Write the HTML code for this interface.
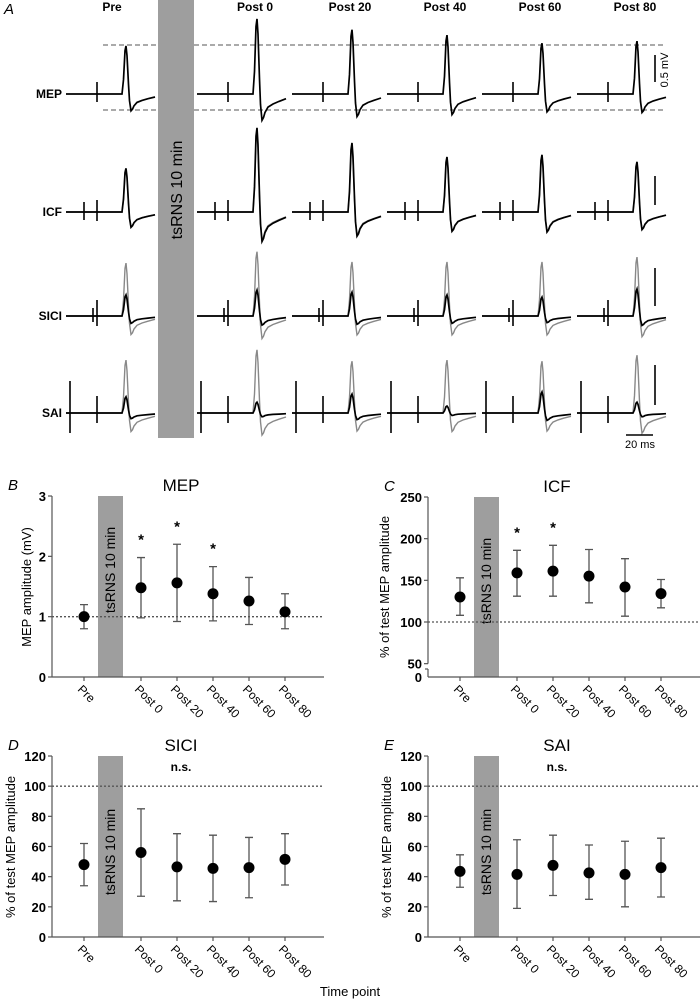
<!DOCTYPE html>
<html><head><meta charset="utf-8">
<style>
html,body{margin:0;padding:0;background:#fff;}
svg{display:block;font-family:"Liberation Sans",Arial,sans-serif;}
</style></head>
<body>
<svg id="fig" width="700" height="1003" viewBox="0 0 700 1003" xmlns="http://www.w3.org/2000/svg">
<g id="panelA"></g>
<g id="panelB"></g>
<g id="panelC"></g>
<g id="panelD"></g>
<g id="panelE"></g>
<text x="350" y="996" text-anchor="middle" font-size="13">Time point</text>
</svg>
<script>
// ---------- data ----------
const timepoints = ["Pre","Post 0","Post 20","Post 40","Post 60","Post 80"];
// Panel A trace peak amplitudes (mV)
const mepPeak = [0.89,1.39,1.19,1.09,0.94,0.98];
const icfCond = [0.81,1.56,1.28,1.02,1.06,0.93];
const icfTest = [0.78,1.45,1.20,0.98,1.00,0.90];
const siciTest = [0.98,1.19,1.00,1.00,1.00,1.09];
const siciCond = [0.39,0.48,0.44,0.39,0.35,0.50];
const saiTest = [0.98,1.17,0.96,0.98,0.96,1.07];
const saiCond = [0.30,0.20,0.35,0.13,0.39,0.20];
// Panel B MEP (mV)
const mepMean = [1.0,1.48,1.56,1.38,1.26,1.08];
const mepLo = [0.8,0.98,0.92,0.93,0.87,0.80];
const mepHi = [1.2,1.98,2.2,1.83,1.65,1.38];
const mepSig = [false,true,true,true,false,false];
// Panel C ICF (%)
const icfMean = [130,159,161,155,142,134];
const icfLo = [108,131,131,123,107,117];
const icfHi = [153,186,192,187,176,151];
const icfSig = [false,true,true,false,false,false];
// Panel D SICI (%)
const siciMean = [48,56,46.5,45.5,46,51.5];
const siciLo = [34,27,24,23.5,26,34.5];
const siciHi = [62,85,68.5,67.5,66,68.5];
// Panel E SAI (%)
const saiMean = [43.5,41.5,47.5,42.5,41.5,46];
const saiLo = [33,19,27.5,25,20,26.5];
const saiHi = [54.5,64.5,67.5,61,63.5,65.5];
const ticksB = [0,1,2,3];
const ticksC = [50,100,150,200,250];
const ticksDE = [0,20,40,60,80,100,120];

const NS = "http://www.w3.org/2000/svg";
function mk(parent, tag, attrs, text){
  const e = document.createElementNS(NS, tag);
  for (const k in attrs) e.setAttribute(k, attrs[k]);
  if (text !== undefined) e.textContent = text;
  parent.appendChild(e);
  return e;
}

// ---------- Panel A ----------
const A = document.getElementById('panelA');
const PX_PER_MV = 54;
function colStart(c){ return c === 0 ? 66 : 197 + (c-1)*95; }
function wave(x0, y0, amp){
  const a = amp*PX_PER_MV, d = 0.35*a;
  const pts = [[0,0],[56,0],[57.5,0.3*a],[59,0.9*a],[60,a],[61,0.8*a],[62.5,0.2*a],[63.5,-0.4*d],[65,-d],[66.5,-0.9*d],[68,-0.7*d],[71,-0.5*d],[76,-0.38*d],[82,-0.28*d],[89,-0.18*d]];
  return "M" + pts.map(p => (x0+p[0]).toFixed(1)+","+(y0-p[1]).toFixed(1)).join(" L");
}
function artifact(x, y0, up, down){
  const l = mk(A,'line',{x1:x,x2:x,y1:y0-up,y2:y0+down,stroke:'#000','stroke-width':1.6});
  
  
}
const rows = [
  {name:'MEP', y:94, test:mepPeak, cond:mepPeak, art:[[31,12,8]]},
  {name:'ICF', y:212, test:icfTest, cond:icfCond, art:[[18,10,8],[31,12,9]]},
  {name:'SICI', y:316, test:siciTest, cond:siciCond, art:[[27,8,6],[31,16,10]]},
  {name:'SAI', y:413, test:saiTest, cond:saiCond, art:[[4,32,20],[31,17,10]]}
];
// dashed reference lines
[45,110].forEach(y => {
  [[103,158],[194,665]].forEach(s => {
    const l = mk(A,'line',{x1:s[0],x2:s[1],y1:y,y2:y,stroke:'#777','stroke-width':1.2,'stroke-dasharray':'5,3'});
    
    
  });
});
rows.forEach(r => {
  const lbl = mk(A,'text',{x:62,y:r.y+4,'text-anchor':'end','font-size':12,'font-weight':'bold'}, r.name);
  
  
  for (let c=0;c<6;c++){
    const x0 = colStart(c);
    if (r.name !== 'MEP'){
      const g = mk(A,'path',{d:wave(x0,r.y,r.test[c]),fill:'none',stroke:'#888','stroke-width':1.4});
      
      
    }
    const b = mk(A,'path',{d:wave(x0,r.y,r.cond[c]),fill:'none',stroke:'#000','stroke-width':1.7});
    
    
    r.art.forEach(a => artifact(x0+a[0], r.y, a[1], a[2]));
  }
});
for (let c=0;c<6;c++){
  const t = mk(A,'text',{x:colStart(c)+(c===0?46:58),y:11,'text-anchor':'middle','font-size':12,'font-weight':'bold'}, timepoints[c]);
  
  
}
const la = mk(A,'text',{x:4,y:14,'font-size':15,'font-style':'italic'},'A');


const barA = mk(A,'rect',{x:158,y:0,width:36,height:438,fill:'#9e9e9e'});


const barAT = mk(A,'text',{x:0,y:0,transform:'translate(182,190) rotate(-90)','text-anchor':'middle','font-size':16},'tsRNS 10 min');


// scale bars
[[55,82],[176,205],[268,306],[365,405]].forEach(s => {
  const l = mk(A,'line',{x1:655,x2:655,y1:s[0],y2:s[1],stroke:'#000','stroke-width':1.6});
  
  
});
const mv = mk(A,'text',{x:0,y:0,transform:'translate(668,70) rotate(-90)','text-anchor':'middle','font-size':11},'0.5 mV');


const tb = mk(A,'line',{x1:626,x2:653,y1:435,y2:435,stroke:'#000','stroke-width':1.6});


const tbt = mk(A,'text',{x:640,y:448,'text-anchor':'middle','font-size':11},'20 ms');



// ---------- charts ----------
function catX(ax, i){ return ax + 32 + (i===0 ? 0 : 57 + (i-1)*36); }
function chart(o){
  const g = document.getElementById(o.id);
  const ax = o.ax, yb = o.yBottom, xEnd = ax + 272;
  const y = o.y;
  // letter & title
  const L = mk(g,'text',{x:o.ax-44,y:o.top-6,'font-size':15,'font-style':'italic'},o.letter);
  
  
  const T = mk(g,'text',{x:ax+129,y:o.top-5,'text-anchor':'middle','font-size':17},o.title);
  
  
  // y axis title
  const yt = mk(g,'text',{x:0,y:0,transform:`translate(${o.ytX},${o.ytY}) rotate(-90)`,'text-anchor':'middle','font-size':13},o.ytitle);
  
  
  // bar
  const bar = mk(g,'rect',{x:ax+46,y:o.top,width:25,height:yb-o.top,fill:'#9e9e9e'});
  
  
  const bt = mk(g,'text',{x:0,y:0,transform:`translate(${ax+63},${o.barTextY}) rotate(-90)`,'text-anchor':'middle','font-size':14},'tsRNS 10 min');
  
  
  // dotted reference line
  const rl = mk(g,'line',{x1:ax,x2:xEnd,y1:y(o.ref),y2:y(o.ref),stroke:'#555','stroke-width':1.3,'stroke-dasharray':'2,2'});
  
  
  // axes
  if (o.broken){
    const a1 = mk(g,'line',{x1:ax,x2:ax,y1:o.top,y2:y(50),stroke:'#555','stroke-width':1.2});
    
    
    const a2 = mk(g,'line',{x1:ax,x2:ax,y1:yb-8,y2:yb,stroke:'#555','stroke-width':1.2});
    
    
    mk(g,'line',{x1:ax-3,x2:ax,y1:yb-8,y2:yb-8,stroke:'#555','stroke-width':1.2});
    const z = mk(g,'text',{x:ax-6,y:yb+5,'text-anchor':'end','font-size':13,'font-weight':'bold'},'0');
    
    
  } else {
    const a1 = mk(g,'line',{x1:ax,x2:ax,y1:o.top,y2:yb,stroke:'#555','stroke-width':1.2});
    
    
  }
  const xa = mk(g,'line',{x1:ax,x2:xEnd,y1:yb,y2:yb,stroke:'#555','stroke-width':1.2});
  
  
  o.ticks.forEach(t => {
    mk(g,'line',{x1:ax-4,x2:ax,y1:y(t),y2:y(t),stroke:'#555','stroke-width':1.2});
    const tl = mk(g,'text',{x:ax-6,y:y(t)+5,'text-anchor':'end','font-size':13,'font-weight':'bold'},String(t));
    
    
  });
  for (let i=0;i<6;i++){
    const cx = catX(ax,i);
    mk(g,'line',{x1:cx,x2:cx,y1:yb,y2:yb+4,stroke:'#555','stroke-width':1.2});
    const xl = mk(g,'text',{x:0,y:0,transform:`translate(${cx-7},${yb+13}) rotate(45)`,'font-size':12},timepoints[i]);
    
    
    const eb = mk(g,'path',{d:`M${cx},${y(o.lo[i])} V${y(o.hi[i])} M${cx-4},${y(o.lo[i])} H${cx+4} M${cx-4},${y(o.hi[i])} H${cx+4}`,fill:'none',stroke:'#555','stroke-width':1.3});
    
    
    const dot = mk(g,'circle',{cx:cx,cy:y(o.mean[i]),r:5.5,fill:'#000'});
    
    
    if (o.sig && o.sig[i]){
      const s = mk(g,'text',{x:cx,y:y(o.hi[i])-13,'text-anchor':'middle','font-size':15,'font-weight':'bold'},'*');
      
      
    }
  }
  if (o.ns){
    const n = mk(g,'text',{x:ax+129,y:o.top+15,'text-anchor':'middle','font-size':12,'font-weight':'bold'},'n.s.');
    
    
  }
}
chart({id:'panelB',letter:'B',title:'MEP',ax:52,top:496,yBottom:677,y:v=>677-v*60.33,ticks:ticksB,ref:1,
  mean:mepMean,lo:mepLo,hi:mepHi,sig:mepSig,ytitle:'MEP amplitude (mV)',ytX:31,ytY:587,barTextY:570});
chart({id:'panelC',letter:'C',title:'ICF',ax:428,top:497,yBottom:677,y:v=>622-(v-100)*0.8333,ticks:ticksC,ref:100,broken:true,
  mean:icfMean,lo:icfLo,hi:icfHi,sig:icfSig,ytitle:'% of test MEP amplitude',ytX:389,ytY:587,barTextY:581});
chart({id:'panelD',letter:'D',title:'SICI',ax:52,top:756,yBottom:937,y:v=>937-v*1.5083,ticks:ticksDE,ref:100,ns:true,
  mean:siciMean,lo:siciLo,hi:siciHi,ytitle:'% of test MEP amplitude',ytX:15,ytY:847,barTextY:852});
chart({id:'panelE',letter:'E',title:'SAI',ax:428,top:756,yBottom:937,y:v=>937-v*1.5083,ticks:ticksDE,ref:100,ns:true,
  mean:saiMean,lo:saiLo,hi:saiHi,ytitle:'% of test MEP amplitude',ytX:391,ytY:847,barTextY:852});
</script>
</body></html>
